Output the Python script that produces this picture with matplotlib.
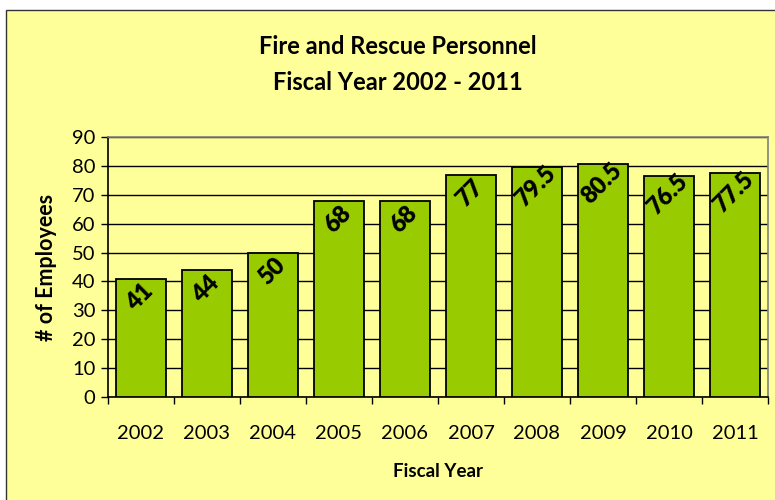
import matplotlib.pyplot as plt
from matplotlib.patches import Rectangle

# Fire and rescue staffing by fiscal year
years = ['2002', '2003', '2004', '2005', '2006', '2007', '2008', '2009', '2010', '2011']
employees = [41, 44, 50, 68, 68, 77, 79.5, 80.5, 76.5, 77.5]
y_ticks = [0, 10, 20, 30, 40, 50, 60, 70, 80, 90]

bg = '#FFFF99'
bar_color = '#99CC00'

plt.rcParams['font.family'] = ['Lato', 'DejaVu Sans']

fig = plt.figure(figsize=(7.75, 5.0), dpi=100)
fig.patch.set_facecolor('white')

# chart area frame (runs off the right and bottom edges)
fig.patches.append(Rectangle((6 / 775, -0.05), 1.0, (490 / 500) + 0.05,
                             transform=fig.transFigure, facecolor=bg,
                             edgecolor='#333333', linewidth=1.0, zorder=-5))

ax = fig.add_axes([108 / 775, 103 / 500, 660 / 775, 260 / 500])
ax.set_facecolor(bg)

x = list(range(len(years)))
ax.bar(x, employees, width=0.76, color=bar_color, edgecolor='black', linewidth=1.3, zorder=3)

# value labels, turned 45 degrees just under each bar top
for i, v in enumerate(employees):
    label = ('%g' % v)
    ax.annotate(label, (i, v), xytext=(-1, -19), textcoords='offset pixels',
                ha='center', va='center', rotation=45, fontsize=17,
                fontweight='heavy', zorder=4)

ax.set_xlim(-0.5, len(years) - 0.5)
ax.set_ylim(0, 90)
ax.set_yticks(y_ticks)
ax.set_xticks(x)
ax.set_xticklabels(years)
ax.set_xticks([i + 0.5 for i in range(-1, len(years))], minor=True)
ax.tick_params(axis='x', which='major', length=0, pad=20, labelsize=14.5)
ax.tick_params(axis='x', which='minor', length=5, width=1, color='black')
ax.tick_params(axis='y', length=5, width=1, labelsize=14.5, pad=4)

ax.grid(axis='y', color='black', linewidth=1.0, zorder=1)
ax.set_axisbelow(True)

ax.spines['top'].set_color('#808080')
ax.spines['right'].set_color('#808080')
ax.spines['left'].set_color('black')
ax.spines['bottom'].set_color('black')
for s in ax.spines.values():
    s.set_linewidth(1.2)

ax.set_ylabel('# of Employees', fontsize=15.5, fontweight='bold', labelpad=11)
ax.set_xlabel('Fiscal Year', fontsize=13.5, fontweight='bold', labelpad=15)

fig.text(398 / 775, 1 - 47 / 500, 'Fire and Rescue Personnel', ha='center', va='center',
         fontsize=17, fontweight='bold')
fig.text(398 / 775, 1 - 82 / 500, 'Fiscal Year 2002 - 2011', ha='center', va='center',
         fontsize=17, fontweight='bold')

fig.savefig('out.png', dpi=100)
